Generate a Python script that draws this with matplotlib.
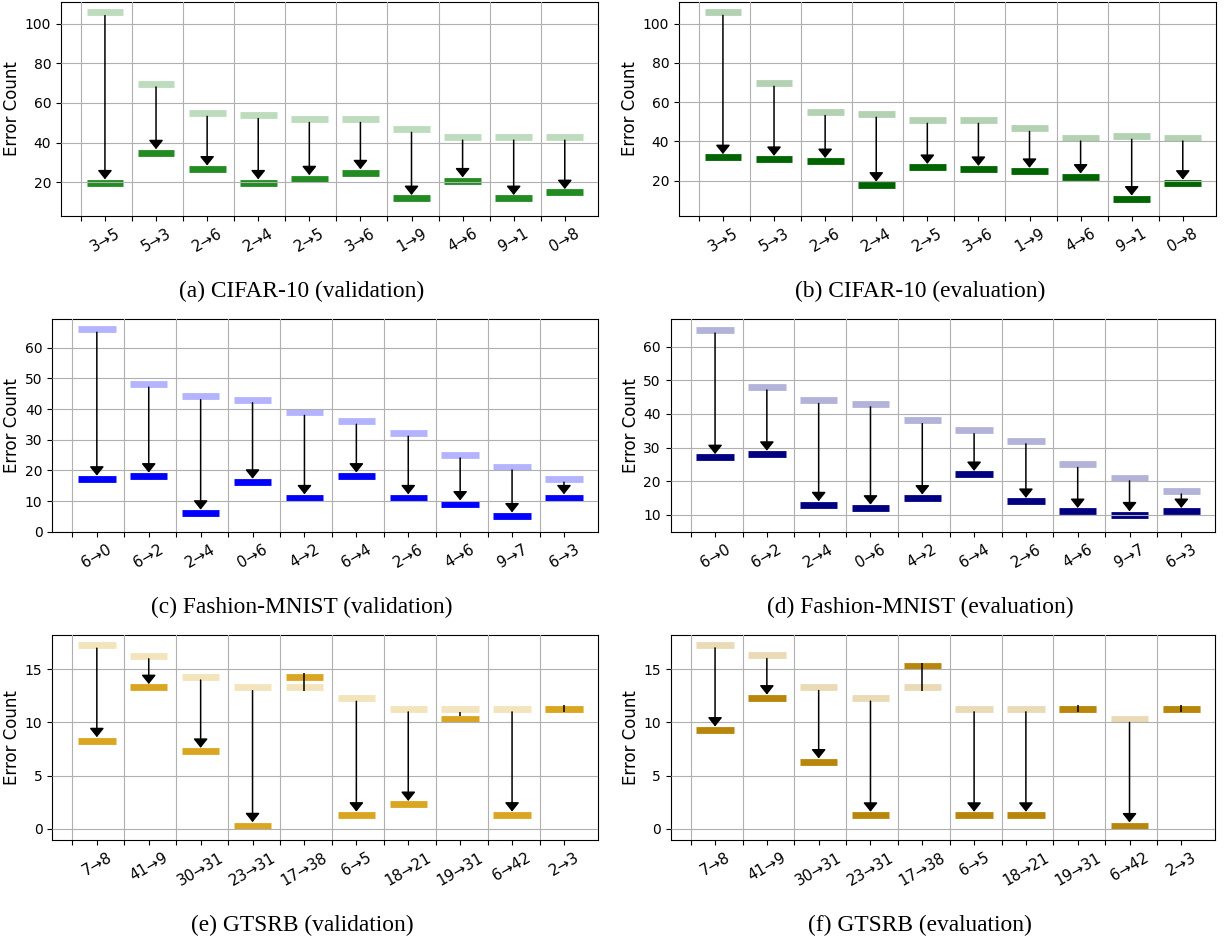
import numpy as np
import matplotlib
matplotlib.use("Agg")
import matplotlib.pyplot as plt
from matplotlib.colors import to_rgb

# ---------------- data ----------------
cats_cifar = ['3→5', '5→3', '2→6', '2→4', '2→5', '3→6', '1→9', '4→6', '9→1', '0→8']
cifar_val_before = [105.7, 69.7, 54.9, 53.8, 51.8, 51.8, 46.8, 42.9, 42.9, 42.9]
cifar_val_after = [19.8, 35.0, 26.8, 19.8, 21.9, 24.9, 11.9, 20.8, 11.9, 14.9]
cifar_eval_before = [105.9, 69.8, 54.9, 54.0, 50.9, 50.9, 46.8, 41.9, 42.8, 41.9]
cifar_eval_after = [31.9, 31.0, 29.9, 17.9, 26.9, 25.9, 24.9, 22.0, 10.8, 18.9]

cats_fashion = ['6→0', '6→2', '2→4', '0→6', '4→2', '6→4', '2→6', '4→6', '9→7', '6→3']
fmnist_val_before = [66.1, 48.2, 44.1, 43.1, 39.0, 36.1, 32.2, 25.1, 21.2, 17.2]
fmnist_val_after = [17.2, 18.2, 6.1, 16.2, 11.1, 18.2, 11.1, 9.1, 5.2, 11.1]
fmnist_eval_before = [65.0, 48.1, 44.1, 43.1, 38.1, 35.1, 32.1, 25.1, 21.1, 17.2]
fmnist_eval_after = [27.1, 28.1, 13.1, 12.1, 15.1, 22.1, 14.1, 11.1, 10.1, 11.1]

cats_gtsrb = ['7→8', '41→9', '30→31', '23→31', '17→38', '6→5', '18→21', '19→31', '6→42', '2→3']
gtsrb_val_before = [17.3, 16.3, 14.3, 13.3, 13.3, 12.3, 11.3, 11.3, 11.3, 11.3]
gtsrb_val_after = [8.3, 13.3, 7.3, 0.3, 14.3, 1.3, 2.3, 10.3, 1.3, 11.3]
gtsrb_eval_before = [17.3, 16.3, 13.3, 12.3, 13.3, 11.3, 11.3, 11.3, 10.3, 11.3]
gtsrb_eval_after = [9.3, 12.3, 6.3, 1.3, 15.3, 1.3, 1.3, 11.3, 0.3, 11.3]

captions = ['(a) CIFAR-10 (validation)', '(b) CIFAR-10 (evaluation)',
            '(c) Fashion-MNIST (validation)', '(d) Fashion-MNIST (evaluation)',
            '(e) GTSRB (validation)', '(f) GTSRB (evaluation)']

# ---------------- layout / style ----------------
W, H = 1225, 941
fig = plt.figure(figsize=(W / 100, H / 100), dpi=100)

panels = [
    # cats, before, after, color, ylim, yticks, (left,right,top,bottom px), caption center px
    (cats_cifar, cifar_val_before, cifar_val_after, 'forestgreen', (3.15, 110.9),
     [20, 40, 60, 80, 100], (61, 598, 2, 215.7), (302, 291)),
    (cats_cifar, cifar_eval_before, cifar_eval_after, 'darkgreen', (2.2, 111.05),
     [20, 40, 60, 80, 100], (679, 1216, 2, 215.7), (920, 291)),
    (cats_fashion, fmnist_val_before, fmnist_val_after, 'blue', (-0.2, 69.35),
     [0, 10, 20, 30, 40, 50, 60], (52.2, 597.7, 319, 532.3), (302, 607)),
    (cats_fashion, fmnist_eval_before, fmnist_eval_after, 'navy', (4.86, 68.2),
     [10, 20, 30, 40, 50, 60], (670.5, 1215, 319, 532.3), (920, 607)),
    (cats_gtsrb, gtsrb_val_before, gtsrb_val_after, 'goldenrod', (-1.09, 18.23),
     [0, 5, 10, 15], (52.2, 597.7, 635, 840.3), (302, 925)),
    (cats_gtsrb, gtsrb_eval_before, gtsrb_eval_after, 'darkgoldenrod', (-1.07, 18.2),
     [0, 5, 10, 15], (670.5, 1215, 635, 840.3), (920, 925)),
]

BAR_LW = 4.9          # bar thickness in points
HALF_PX = 3.3         # half bar thickness in pixels
BAR_HALF_W = 0.36
HEAD_PX = 7.5

for k, (cats, before, after, color, ylim, yticks, box, cap) in enumerate(panels):
    l, r, t, b = box
    ax = fig.add_axes([l / W, 1 - b / H, (r - l) / W, (b - t) / H])
    x = np.arange(len(cats))
    dark = np.array(to_rgb(color))
    light = 0.3 * dark + 0.7 * np.ones(3)

    ax.set_xlim(-0.86, 9.65)
    ax.set_ylim(*ylim)
    ax.set_axisbelow(False)

    ax.hlines(before, x - BAR_HALF_W, x + BAR_HALF_W, colors=[light], linewidth=BAR_LW,
              zorder=2)
    ax.hlines(after, x - BAR_HALF_W, x + BAR_HALF_W, colors=[dark], linewidth=BAR_LW,
              zorder=2)

    px_per_unit = (b - t) / (ylim[1] - ylim[0])
    d = HALF_PX / px_per_unit
    for xi, bv, av in zip(x, before, after):
        start = bv - d
        end = av + d
        length_px = (start - end) * px_per_unit
        if length_px > HEAD_PX:
            ax.annotate('', xy=(xi, end), xytext=(xi, start),
                        arrowprops=dict(arrowstyle='-|>,head_length=0.4,head_width=0.32',
                                        color='black', lw=1.1, mutation_scale=13.5,
                                        shrinkA=0, shrinkB=0), zorder=3)
        else:
            ax.plot([xi, xi], [start, end], color='black', lw=1.1, zorder=3,
                    solid_capstyle='butt')

    ax.set_xticks(x)
    ax.set_xticklabels(cats, rotation=30, ha='center', fontsize=10.8)
    ax.set_xticks(x - 0.47, minor=True)
    ax.tick_params(axis='x', which='minor', length=3.5, width=0.8)
    ax.set_yticks(yticks)
    ax.tick_params(axis='y', labelsize=10)
    ax.grid(True, axis='y', which='major', color='#b0b0b0', lw=0.8)
    ax.grid(True, axis='x', which='minor', color='#b0b0b0', lw=0.8)
    ax.set_ylabel('Error Count', fontsize=12, labelpad=2.5)

    fig.text(cap[0] / W, 1 - cap[1] / H, captions[k], ha='center', va='center',
             fontsize=16.8, family='Liberation Serif')

fig.savefig('out.png', dpi=100)
